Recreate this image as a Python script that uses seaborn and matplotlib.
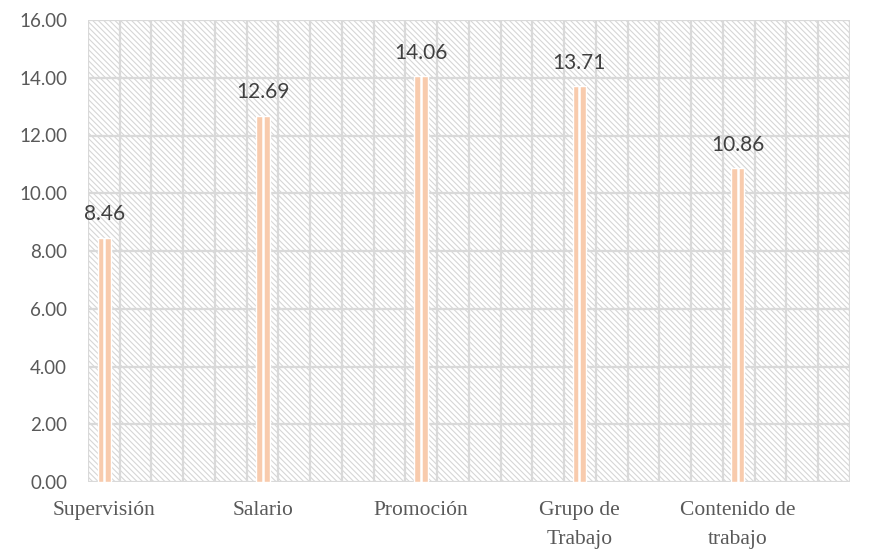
import numpy as np
import pandas as pd
import matplotlib
matplotlib.use('Agg')
import matplotlib.pyplot as plt
import seaborn as sns
from matplotlib.patches import Rectangle

categories = ['Supervisión', 'Salario', 'Promoción', 'Grupo de\nTrabajo', 'Contenido de\ntrabajo']
values = [8.46, 12.69, 14.06, 13.71, 10.86]
y_ticks = [0, 2, 4, 6, 8, 10, 12, 14, 16]

df = pd.DataFrame({'factor': categories, 'valor': values})

sns.set_style('white')
plt.rcParams['font.family'] = ['Lato', 'DejaVu Sans']
plt.rcParams['hatch.linewidth'] = 0.8

grid_col = '#D9D9D9'
bar_col = '#F8CBAD'

fig = plt.figure(figsize=(8.7, 5.49), dpi=100)
ax = fig.add_axes([88 / 870, 1 - 482 / 549, (850 - 88) / 870, (482 - 20) / 549])

# hatched backdrop of the plot area
ax.add_patch(Rectangle((0, 0), 1, 1, transform=ax.transAxes, facecolor='white',
                       edgecolor='#D6D6D6', hatch='\\' * 6, linewidth=0, zorder=0))

sns.barplot(data=df, x='factor', y='valor', color=bar_col, width=0.085,
            saturation=1, ax=ax, zorder=3)

ax.set_xlim(-0.104, 4.709)
ax.set_ylim(0, 16)

# grid: horizontal at ticks, vertical every 1/24 of the width
for y in y_ticks:
    ax.axhline(y, color=grid_col, lw=1.6, zorder=1)
for x in np.linspace(-0.104, 4.709, 25):
    ax.axvline(x, color=grid_col, lw=1.6, zorder=1)

# white split line in each bar + value labels
for p, v in zip(ax.patches[1:], values):
    cx = p.get_x() + p.get_width() / 2
    ax.plot([cx, cx], [0, v], color='white', lw=1.8, zorder=4, solid_capstyle='butt')
    ax.annotate(f'{v:.2f}', (cx, v), xytext=(0, 12.5), textcoords='offset points',
                ha='center', va='baseline', fontsize=15, color='#404040', zorder=5)

ax.set_yticks(y_ticks)
ax.set_yticklabels([f'{t:.2f}' for t in y_ticks], fontsize=13.5, color='#595959')
ax.set_xticks(range(len(categories)))
ax.set_xticklabels(categories, fontsize=15.5, color='#595959',
                   family=['Liberation Serif', 'DejaVu Serif'], linespacing=1.7)
ax.tick_params(axis='y', length=0, pad=15)
ax.tick_params(axis='x', length=0, pad=14)
ax.set_xlabel('')
ax.set_ylabel('')
for s in ax.spines.values():
    s.set_visible(False)

fig.savefig('out.png', dpi=100)
